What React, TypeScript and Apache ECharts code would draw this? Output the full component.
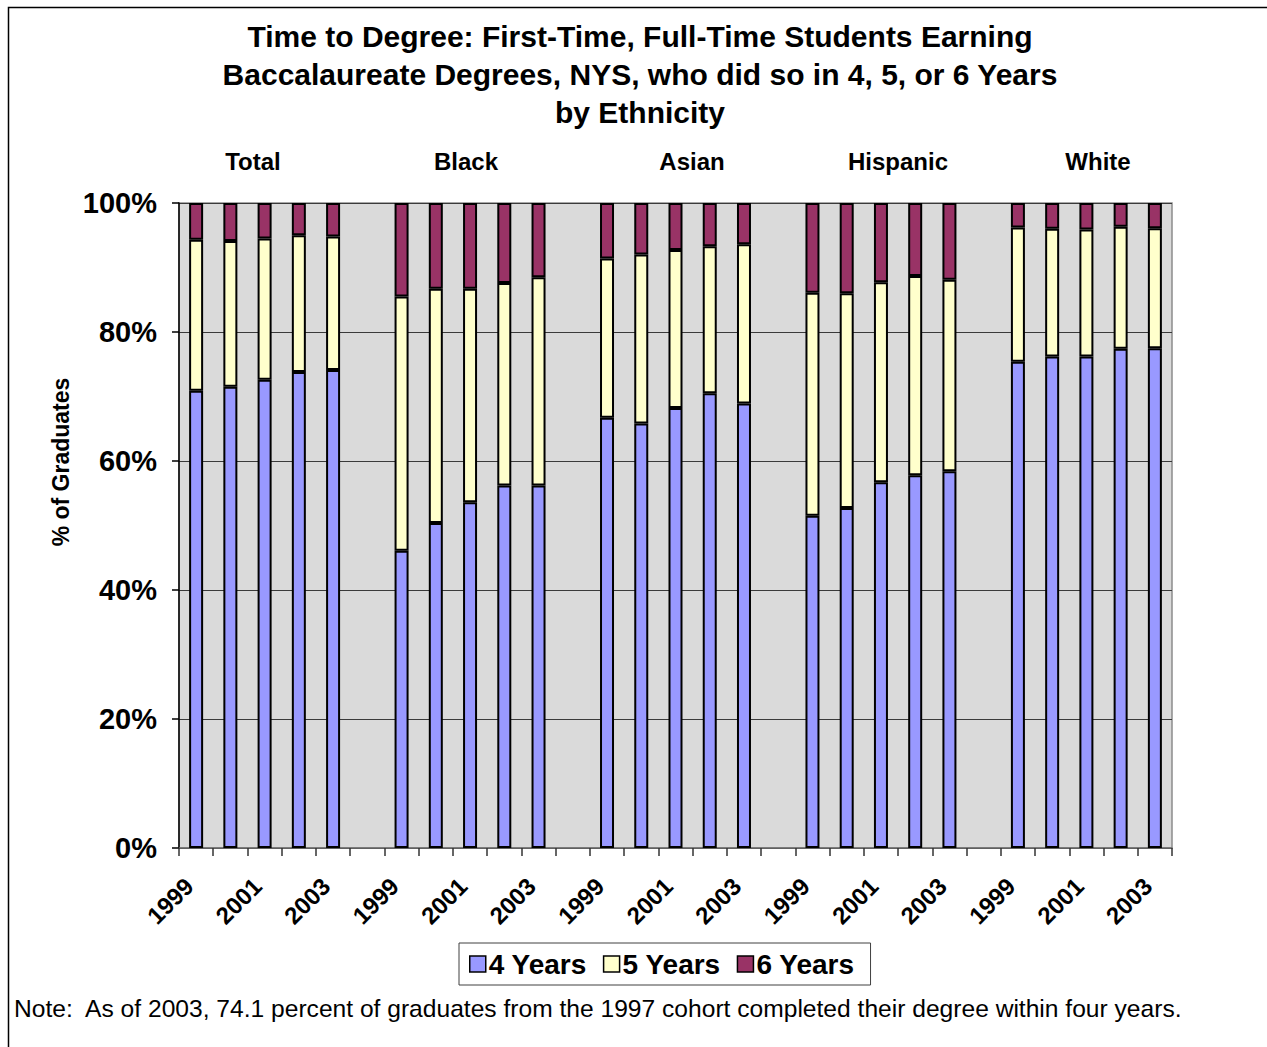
import React, { useEffect, useRef } from "react";
import * as echarts from "echarts";

const groups = ["Total", "Black", "Asian", "Hispanic", "White"];
const years = ["1999", "2000", "2001", "2002", "2003"];
const yTicks = ["0%", "20%", "40%", "60%", "80%", "100%"];

// percent of graduates finishing in 4, 5 (additional), 6 (additional) years
const fourYears: number[][] = [
  [70.9, 71.5, 72.6, 73.8, 74.1],
  [46.1, 50.4, 53.6, 56.2, 56.2],
  [66.7, 65.8, 68.2, 70.5, 68.9],
  [51.5, 52.7, 56.7, 57.8, 58.4],
  [75.4, 76.2, 76.2, 77.4, 77.5],
];
const fiveYears: number[][] = [
  [23.4, 22.6, 21.9, 21.2, 20.7],
  [39.4, 36.3, 33.1, 31.4, 32.3],
  [24.7, 26.2, 24.5, 22.8, 24.7],
  [34.6, 33.3, 31.0, 30.9, 29.7],
  [20.8, 19.8, 19.7, 18.9, 18.6],
];
const sixYears: number[][] = [
  [5.7, 5.9, 5.5, 5.0, 5.2],
  [14.5, 13.3, 13.3, 12.4, 11.5],
  [8.6, 8.0, 7.3, 6.7, 6.4],
  [13.9, 14.0, 12.3, 11.3, 11.9],
  [3.8, 4.0, 4.1, 3.7, 3.9],
];

const titleLines = [
  "Time to Degree: First-Time, Full-Time Students Earning",
  "Baccalaureate Degrees, NYS, who did so in 4, 5, or 6 Years",
  "by Ethnicity",
];
const noteText =
  "Note:  As of 2003, 74.1 percent of graduates from the 1997 cohort completed their degree within four years.";

const FONT = "'Liberation Sans', Arial, sans-serif";

function buildCategories(): string[] {
  const out: string[] = [];
  groups.forEach((_, gi) => {
    if (gi > 0) out.push("");
    years.forEach((y) => out.push(y));
  });
  return out;
}
function buildSeries(vals: number[][]): (number | null)[] {
  const out: (number | null)[] = [];
  vals.forEach((arr, gi) => {
    if (gi > 0) out.push(null);
    arr.forEach((v) => out.push(v));
  });
  return out;
}

export default function App() {
  const ref = useRef<HTMLDivElement>(null);
  useEffect(() => {
    if (!ref.current) return;
    const chart = echarts.init(ref.current, null, { renderer: "svg" });
    const categories = buildCategories();
    const groupLabelX = [253, 466, 692, 898, 1098];
    const titleY = [36, 74, 112];
    const barBase = {
      type: "bar",
      stack: "total",
      barWidth: 14,
    };
    chart.setOption({
      animation: false,
      backgroundColor: "#ffffff",
      textStyle: { fontFamily: FONT },
      legend: {
        left: 459,
        top: 943,
        padding: [7, 16, 7, 10],
        itemWidth: 16,
        itemHeight: 16,
        itemGap: 16,
        icon: "rect",
        borderColor: "#404040",
        borderWidth: 1,
        backgroundColor: "#fff",
        textStyle: {
          fontFamily: FONT,
          fontSize: 28,
          fontWeight: "bold",
          color: "#000",
          padding: [0, 0, 0, -2],
        },
        itemStyle: { borderColor: "#000", borderWidth: 1.5 },
        data: ["4 Years", "5 Years", "6 Years"],
      },
      grid: {
        left: 179,
        top: 203,
        width: 993,
        height: 645,
        show: true,
        backgroundColor: "#dadada",
        borderColor: "#8c8c8c",
        borderWidth: 1.5,
      },
      xAxis: {
        type: "category",
        data: categories,
        boundaryGap: true,
        axisLine: { show: true, lineStyle: { color: "#6e6e6e", width: 1.5 } },
        axisTick: {
          show: true,
          interval: 0,
          alignWithLabel: false,
          length: 8,
          lineStyle: { color: "#333", width: 1.5 },
        },
        axisLabel: {
          interval: 1,
          rotate: 45,
          margin: 27,
          padding: [0, 10, 0, 0],
          fontFamily: FONT,
          fontSize: 24,
          fontWeight: "bold",
          color: "#000",
        },
      },
      yAxis: {
        type: "value",
        min: 0,
        max: 100,
        interval: 20,
        axisLine: { show: true, lineStyle: { color: "#000", width: 1.5 } },
        axisTick: { show: true, length: 7, lineStyle: { color: "#000", width: 1.5 } },
        axisLabel: {
          margin: 22,
          fontFamily: FONT,
          fontSize: 29,
          fontWeight: "bold",
          color: "#000",
          formatter: (v: number) => yTicks[Math.round(v / 20)] ?? "",
        },
        splitLine: { show: true, lineStyle: { color: "#3a3a3a", width: 1 } },
      },
      series: [
        {
          ...barBase,
          name: "4 Years",
          data: buildSeries(fourYears),
          itemStyle: { color: "#9999ff", borderColor: "#000", borderWidth: 2 },
        },
        {
          ...barBase,
          name: "5 Years",
          data: buildSeries(fiveYears),
          itemStyle: { color: "#ffffcc", borderColor: "#000", borderWidth: 2 },
        },
        {
          ...barBase,
          name: "6 Years",
          data: buildSeries(sixYears),
          itemStyle: { color: "#993366", borderColor: "#000", borderWidth: 2 },
        },
      ],
      graphic: [
        {
          type: "rect",
          silent: true,
          shape: { x: 8.5, y: 7.5, width: 1300, height: 1100 },
          style: { fill: "none", stroke: "#000", lineWidth: 1.5 },
          z: 100,
        },
        ...titleLines.map((t, i) => ({
          type: "text",
          x: 640,
          y: titleY[i],
          style: {
            text: t,
            fontFamily: FONT,
            fontSize: 30,
            fontWeight: "bold",
            fill: "#000",
            align: "center",
            verticalAlign: "middle",
          },
        })),
        ...groups.map((g, i) => ({
          type: "text",
          x: groupLabelX[i],
          y: 161,
          style: {
            text: g,
            fontFamily: FONT,
            fontSize: 24,
            fontWeight: "bold",
            fill: "#000",
            align: "center",
            verticalAlign: "middle",
          },
        })),
        {
          type: "text",
          x: 61,
          y: 462,
          rotation: Math.PI / 2,
          style: {
            text: "% of Graduates",
            fontFamily: FONT,
            fontSize: 23,
            fontWeight: "bold",
            fill: "#000",
            align: "center",
            verticalAlign: "middle",
          },
        },
        {
          type: "text",
          x: 14,
          y: 1008,
          style: {
            text: noteText,
            fontFamily: FONT,
            fontSize: 24.6,
            fill: "#000",
            align: "left",
            verticalAlign: "middle",
          },
        },
      ],
    });
    return () => chart.dispose();
  }, []);
  return (
    <div
      ref={ref}
      style={{ position: "absolute", left: 0, top: 0, width: 1267, height: 1047 }}
    />
  );
}
